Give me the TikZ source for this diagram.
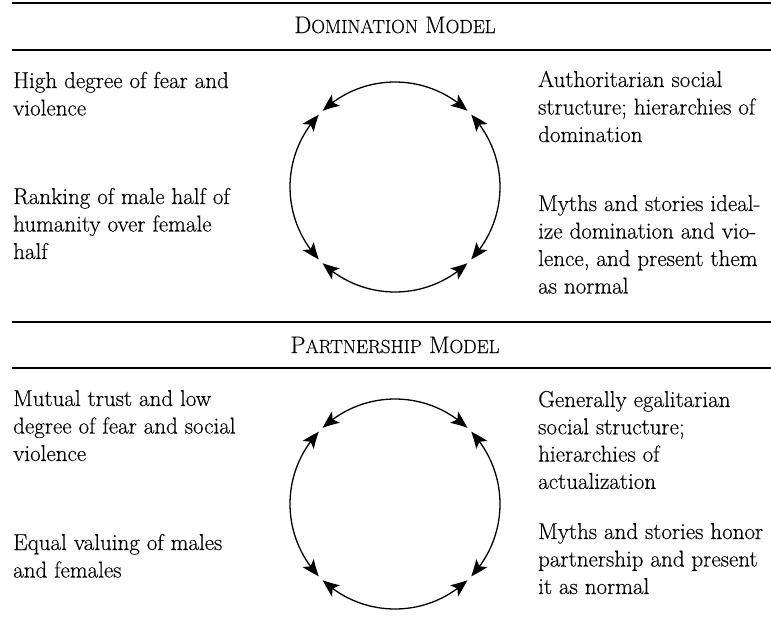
\documentclass[tikz,border=0pt]{standalone}
\usepackage{fontspec}
\setmainfont{Latin Modern Roman}[FakeBold=0.3]
\usetikzlibrary{arrows.meta,bending}
\newcommand\plines[5]{%
  \foreach \l [count=\i] in {#5} {\node[txt] (#1\i) at (#2,{#3+#4*(\i-1)}) {\l};}}
\newcommand\fsc[2]{#1{\fontsize{19}{20}\selectfont #2}}
\begin{document}
\begin{tikzpicture}[x=1pt,y=-1pt,
  txt/.style={anchor=base west, inner sep=0pt, font=\fontsize{23}{27}\selectfont},
  hdr/.style={anchor=base, inner sep=0pt, font=\fontsize{24}{27}\selectfont},
  rule/.style={line width=1.3pt},
  tipc/.tip={Stealth[length=17pt,width=13.5pt,inset=4pt,bend]},
  cyc/.style={line width=1.3pt, tipc-tipc}]
\useasboundingbox (0,0) rectangle (771,638);
% rules
\draw[rule] (12,3) -- (771,3);
\draw[rule] (12,50) -- (771,50);
\draw[rule] (12,322) -- (771,322);
\draw[rule] (12,368) -- (771,368);
% headers
\node[hdr] (h1) at (395,33) {\fsc{D}{OMINATION} \fsc{M}{ODEL}};
\node[hdr] (h2) at (395,353) {\fsc{P}{ARTNERSHIP} \fsc{M}{ODEL}};
% circle centres
\coordinate (c1) at (395,187);
\coordinate (c2) at (395,504);
\foreach \c in {c1,c2} {
  \draw[cyc] (\c) ++(133.5:105pt) arc[start angle=133.5, end angle=46.5, radius=105pt];
  \draw[cyc] (\c) ++(43.5:105pt) arc[start angle=43.5, end angle=-43.5, radius=105pt];
  \draw[cyc] (\c) ++(-46.5:105pt) arc[start angle=-46.5, end angle=-133.5, radius=105pt];
  \draw[cyc] (\c) ++(-136.5:105pt) arc[start angle=-136.5, end angle=-223.5, radius=105pt];
}
% Domination texts
\plines{la}{13}{88}{27.5}{High degree of fear and, violence}
\plines{lb}{13}{204}{27.5}{Ranking of male half of, humanity over female, half}
\plines{ra}{538}{87}{27.5}{Authoritarian social, structure; hierarchies of, domination}
\plines{rb}{538}{211}{27.5}{Myths and stories ideal-, ize domination and vio-, {lence, and present them}, as normal}
% Partnership texts
\plines{lc}{13}{406}{27.5}{Mutual trust and low, degree of fear and social, violence}
\plines{ld}{13}{550}{27.5}{Equal valuing of males, and females}
\plines{rc}{538}{407}{27.3}{Generally egalitarian, social structure;, hierarchies of, actualization}
\plines{rd}{538}{539}{27.5}{Myths and stories honor, partnership and present, it as normal}
\end{tikzpicture}
\end{document}
